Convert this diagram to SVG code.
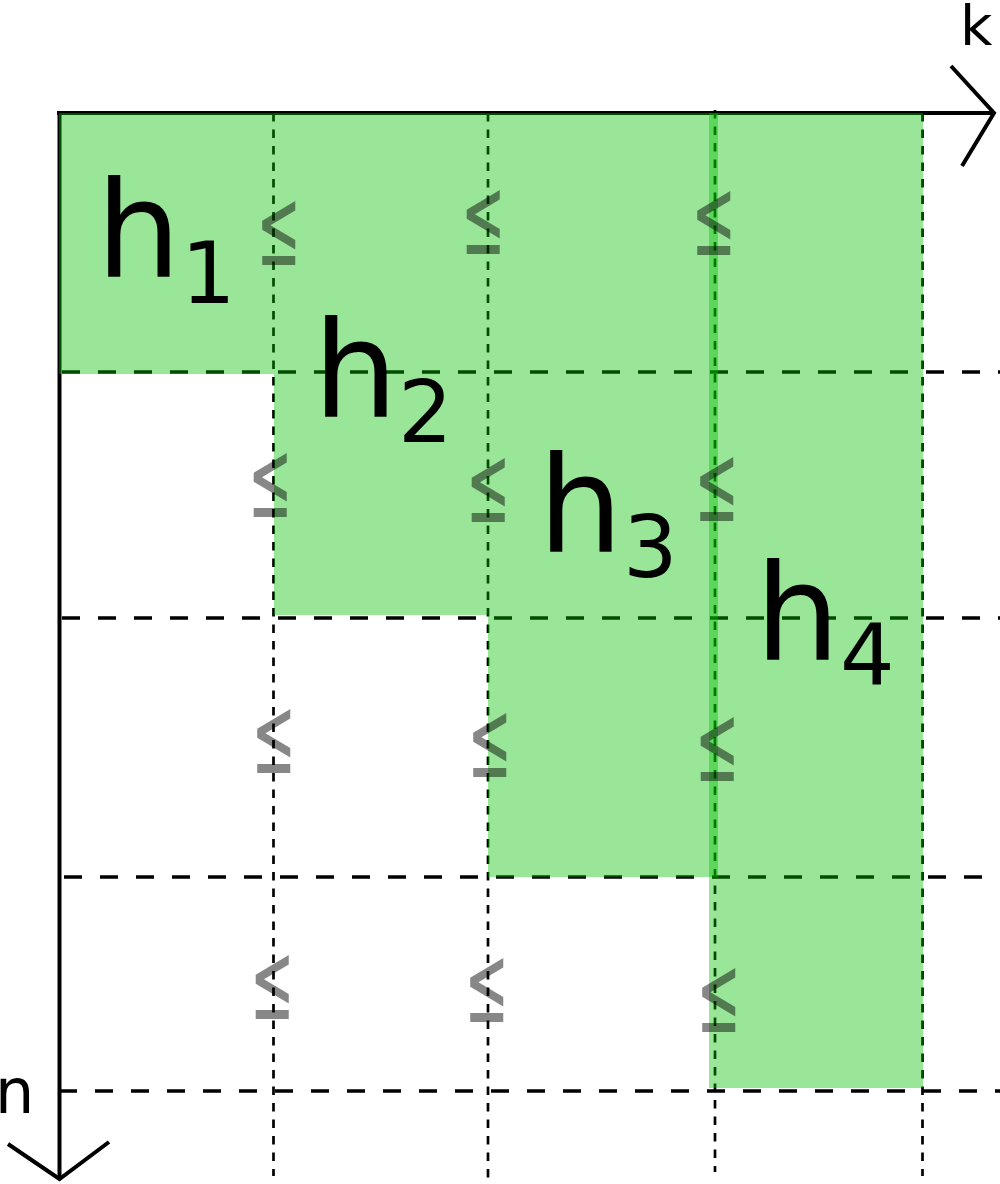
<svg xmlns="http://www.w3.org/2000/svg" width="1000" height="1184" viewBox="0 0 1000 1184">
<style>
.dash{stroke:#000;stroke-width:3.5;stroke-dasharray:18,18;fill:none}
.dot{stroke:#000;stroke-width:2.7;stroke-dasharray:8.5,8;fill:none}
.axis{stroke:#000;stroke-width:4;fill:none}
.area{fill:#00c000;fill-opacity:0.4}
.le{font-family:"DejaVu Sans",sans-serif;font-size:110px;fill:#000;fill-opacity:0.47;text-anchor:middle}
.lab{font-family:"DejaVu Sans",sans-serif;fill:#000}
</style>
<rect width="1000" height="1184" fill="#fff"/>
<g id="connectors">
<g id="grid">
<line class="dash" x1="62" y1="372" x2="1000" y2="372"/>
<line class="dash" x1="62" y1="618" x2="1000" y2="618"/>
<line class="dash" x1="64" y1="877" x2="1000" y2="877"/>
<line class="dash" x1="59" y1="1091" x2="1000" y2="1091"/>
<line class="dot" x1="273.5" y1="113" x2="273.5" y2="1176"/>
<line class="dot" x1="488" y1="113" x2="488" y2="1178"/>
<line class="dot" x1="715" y1="110" x2="715" y2="1172"/>
<line class="dot" x1="922.5" y1="113" x2="922.5" y2="1176"/>
</g>
<g id="axes">
<line class="axis" x1="57" y1="113" x2="994" y2="113"/>
<polyline class="axis" points="951,66 994,113 962,166"/>
<line class="axis" x1="59.5" y1="111" x2="59.5" y2="1179"/>
<polyline class="axis" points="8,1144 59.5,1179 109,1142"/>
</g>
</g>
<g id="h1"><rect class="area" x="59" y="113" width="215" height="261"/></g>
<g id="h2"><rect class="area" x="274" y="113" width="214" height="502"/></g>
<g id="h3"><rect class="area" x="488" y="113" width="230" height="764"/></g>
<g id="h4"><rect class="area" x="709" y="113" width="214" height="975"/></g>
<g id="relations">
<text class="le" transform="translate(278.5,265) scale(0.48,1)">≤</text>
<text class="le" transform="translate(483,254) scale(0.48,1)">≤</text>
<text class="le" transform="translate(713.5,255) scale(0.48,1)">≤</text>
<text class="le" transform="translate(270,517) scale(0.48,1)">≤</text>
<text class="le" transform="translate(488,522) scale(0.48,1)">≤</text>
<text class="le" transform="translate(716.5,521) scale(0.48,1)">≤</text>
<text class="le" transform="translate(273.5,773) scale(0.48,1)">≤</text>
<text class="le" transform="translate(489.5,777) scale(0.48,1)">≤</text>
<text class="le" transform="translate(717,781) scale(0.48,1)">≤</text>
<text class="le" transform="translate(272,1019) scale(0.48,1)">≤</text>
<text class="le" transform="translate(486.5,1022) scale(0.48,1)">≤</text>
<text class="le" transform="translate(718.5,1032) scale(0.48,1)">≤</text>
</g>
<g id="labels">
<text class="lab" x="96" y="277" font-size="134">h<tspan font-size="86" dy="26">1</tspan></text>
<text class="lab" x="313" y="417" font-size="134">h<tspan font-size="86" dy="25">2</tspan></text>
<text class="lab" x="538" y="552" font-size="134">h<tspan font-size="86" dy="25">3</tspan></text>
<text class="lab" x="755" y="660" font-size="134">h<tspan font-size="86" dy="25">4</tspan></text>
<text class="lab" x="960" y="45" font-size="56">k</text>
<text class="lab" x="-5" y="1113" font-size="62">n</text>
</g>
</svg>
